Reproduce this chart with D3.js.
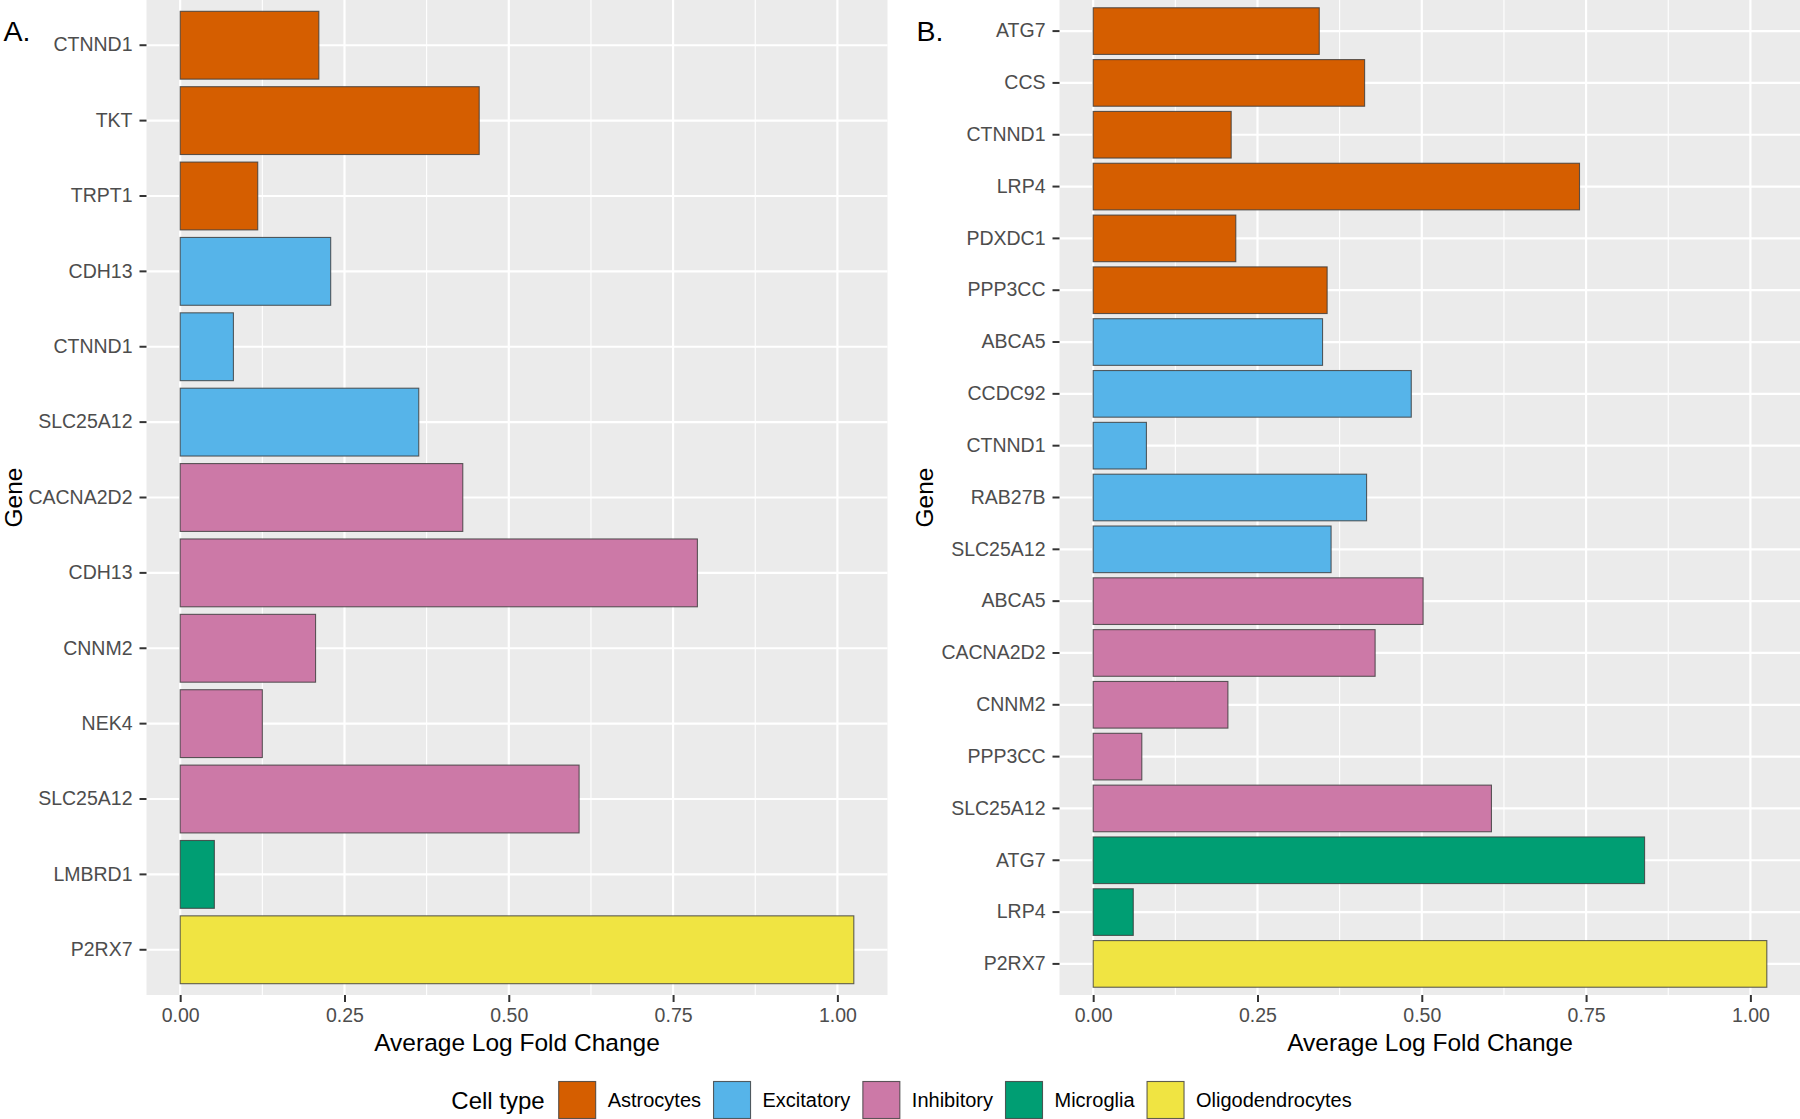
<!DOCTYPE html>
<html>
<head>
<meta charset="utf-8">
<script src="https://cdn.jsdelivr.net/npm/d3@7"></script>
<style>
  html, body { margin: 0; padding: 0; background: #fff; }
  svg { display: block; font-family: "Liberation Sans", Arial, Helvetica, sans-serif; }
</style>
</head>
<body>
<svg id="chart" width="1800" height="1119"></svg>
<script>
// ---------------- data ----------------
const cellTypes = ["Astrocytes", "Excitatory", "Inhibitory", "Microglia", "Oligodendrocytes"];
const cellColors = ["#D55E00", "#56B4E9", "#CC79A7", "#009E73", "#F0E442"];

const genesA = ["CTNND1", "TKT", "TRPT1", "CDH13", "CTNND1", "SLC25A12", "CACNA2D2", "CDH13", "CNNM2", "NEK4", "SLC25A12", "LMBRD1", "P2RX7"];
const typesA = ["Astrocytes", "Astrocytes", "Astrocytes", "Excitatory", "Excitatory", "Excitatory", "Inhibitory", "Inhibitory", "Inhibitory", "Inhibitory", "Inhibitory", "Microglia", "Oligodendrocytes"];
const valuesA = [0.211, 0.455, 0.118, 0.229, 0.081, 0.363, 0.430, 0.787, 0.206, 0.125, 0.607, 0.052, 1.025];

const genesB = ["ATG7", "CCS", "CTNND1", "LRP4", "PDXDC1", "PPP3CC", "ABCA5", "CCDC92", "CTNND1", "RAB27B", "SLC25A12", "ABCA5", "CACNA2D2", "CNNM2", "PPP3CC", "SLC25A12", "ATG7", "LRP4", "P2RX7"];
const typesB = ["Astrocytes", "Astrocytes", "Astrocytes", "Astrocytes", "Astrocytes", "Astrocytes", "Excitatory", "Excitatory", "Excitatory", "Excitatory", "Excitatory", "Inhibitory", "Inhibitory", "Inhibitory", "Inhibitory", "Inhibitory", "Microglia", "Microglia", "Oligodendrocytes"];
const valuesB = [0.344, 0.413, 0.210, 0.740, 0.217, 0.356, 0.349, 0.484, 0.081, 0.416, 0.362, 0.502, 0.429, 0.205, 0.074, 0.606, 0.839, 0.061, 1.025];

const majorTicks = [0, 0.25, 0.5, 0.75, 1.0];
const minorTicks = [0.125, 0.375, 0.625, 0.875];
const xTitle = "Average Log Fold Change";
const yTitle = "Gene";
const legendTitle = "Cell type";

// ---------------- layout ----------------
const svg = d3.select("#chart");
const color = d3.scaleOrdinal().domain(cellTypes).range(cellColors);
const panelTop = 0, panelBottom = 995;
const tickFont = 19.5, titleFont = 24.5, legendFont = 20;

function drawPanel(genes, types, values, left, right, tag, tagX, yTitleX) {
  const g = svg.append("g");
  const maxV = d3.max(values);
  const x = d3.scaleLinear().domain([-0.05 * maxV, 1.05 * maxV]).range([left, right]);
  const keys = genes.map((d, i) => i);
  const y = d3.scaleBand().domain(keys).range([panelTop, panelBottom])
    .paddingInner(0.1).paddingOuter(0.15);

  g.append("rect").attr("x", left).attr("y", panelTop)
    .attr("width", right - left).attr("height", panelBottom - panelTop)
    .attr("fill", "#EBEBEB");

  g.selectAll(".minor").data(minorTicks).join("line")
    .attr("x1", d => x(d)).attr("x2", d => x(d))
    .attr("y1", panelTop).attr("y2", panelBottom)
    .attr("stroke", "#fff").attr("stroke-width", 1.1);
  g.selectAll(".majorx").data(majorTicks).join("line")
    .attr("x1", d => x(d)).attr("x2", d => x(d))
    .attr("y1", panelTop).attr("y2", panelBottom)
    .attr("stroke", "#fff").attr("stroke-width", 2.2);
  g.selectAll(".majory").data(keys).join("line")
    .attr("x1", left).attr("x2", right)
    .attr("y1", d => y(d) + y.bandwidth() / 2).attr("y2", d => y(d) + y.bandwidth() / 2)
    .attr("stroke", "#fff").attr("stroke-width", 2.2);

  g.selectAll(".bar").data(keys).join("rect")
    .attr("x", x(0))
    .attr("y", d => y(d))
    .attr("width", d => x(values[d]) - x(0))
    .attr("height", y.bandwidth())
    .attr("fill", d => color(types[d]))
    .attr("stroke", "#3a3a3a").attr("stroke-opacity", 0.8).attr("stroke-width", 1.1);

  // y axis
  const ya = g.append("g").attr("transform", `translate(${left},0)`)
    .call(d3.axisLeft(y).tickSize(7).tickPadding(7).tickFormat(i => genes[i]));
  ya.select(".domain").remove();
  ya.selectAll("line").attr("stroke", "#333333").attr("stroke-width", 2);
  ya.selectAll("text").attr("fill", "#4D4D4D").style("font-size", tickFont + "px")
    .style("font-family", '"Liberation Sans", Arial, sans-serif');

  // x axis
  const xa = g.append("g").attr("transform", `translate(0,${panelBottom})`)
    .call(d3.axisBottom(x).tickValues(majorTicks).tickSize(7).tickPadding(6).tickFormat(d3.format(".2f")));
  xa.select(".domain").remove();
  xa.selectAll("line").attr("stroke", "#333333").attr("stroke-width", 2);
  xa.selectAll("text").attr("fill", "#4D4D4D").style("font-size", tickFont + "px")
    .style("font-family", '"Liberation Sans", Arial, sans-serif');

  g.append("text").attr("x", (left + right) / 2).attr("y", 1050.5)
    .attr("text-anchor", "middle").style("font-size", titleFont + "px").attr("fill", "#000")
    .text(xTitle);

  g.append("text").attr("transform", `translate(${yTitleX},${(panelTop + panelBottom) / 2}) rotate(-90)`)
    .attr("text-anchor", "middle").style("font-size", titleFont + "px").attr("fill", "#000")
    .text(yTitle);

  g.append("text").attr("x", tagX).attr("y", 40.8)
    .style("font-size", "28.5px").attr("fill", "#000").text(tag);
}

drawPanel(genesA, typesA, valuesA, 146.5, 887.5, "A.", 3.5, 21.5);
drawPanel(genesB, typesB, valuesB, 1059.5, 1800.5, "B.", 916.5, 933);

// ---------------- legend ----------------
const lg = svg.append("g");
const keySize = 37, keyTop = 1081.5, legendMid = 1100;
const lt = lg.append("text").attr("y", legendMid + 8.6).style("font-size", "24px").attr("fill", "#000").text(legendTitle);
let items = [];
let cursor = lt.node().getComputedTextLength() + 14;
cellTypes.forEach((c, i) => {
  const kx = cursor;
  const t = lg.append("text").attr("y", legendMid + 7.2).style("font-size", legendFont + "px").attr("fill", "#000").text(c);
  const tw = t.node().getComputedTextLength();
  items.push({ c, kx, t });
  cursor = kx + keySize + 12 + tw + 12.5;
});
const totalW = cursor - 12.5;
const startX = 901.5 - totalW / 2;
lt.attr("x", startX);
items.forEach(it => {
  lg.append("rect").attr("x", startX + it.kx).attr("y", keyTop)
    .attr("width", keySize).attr("height", keySize)
    .attr("fill", color(it.c)).attr("stroke", "#3a3a3a").attr("stroke-opacity", 0.8).attr("stroke-width", 1.1);
  it.t.attr("x", startX + it.kx + keySize + 12);
});
</script>
</body>
</html>
